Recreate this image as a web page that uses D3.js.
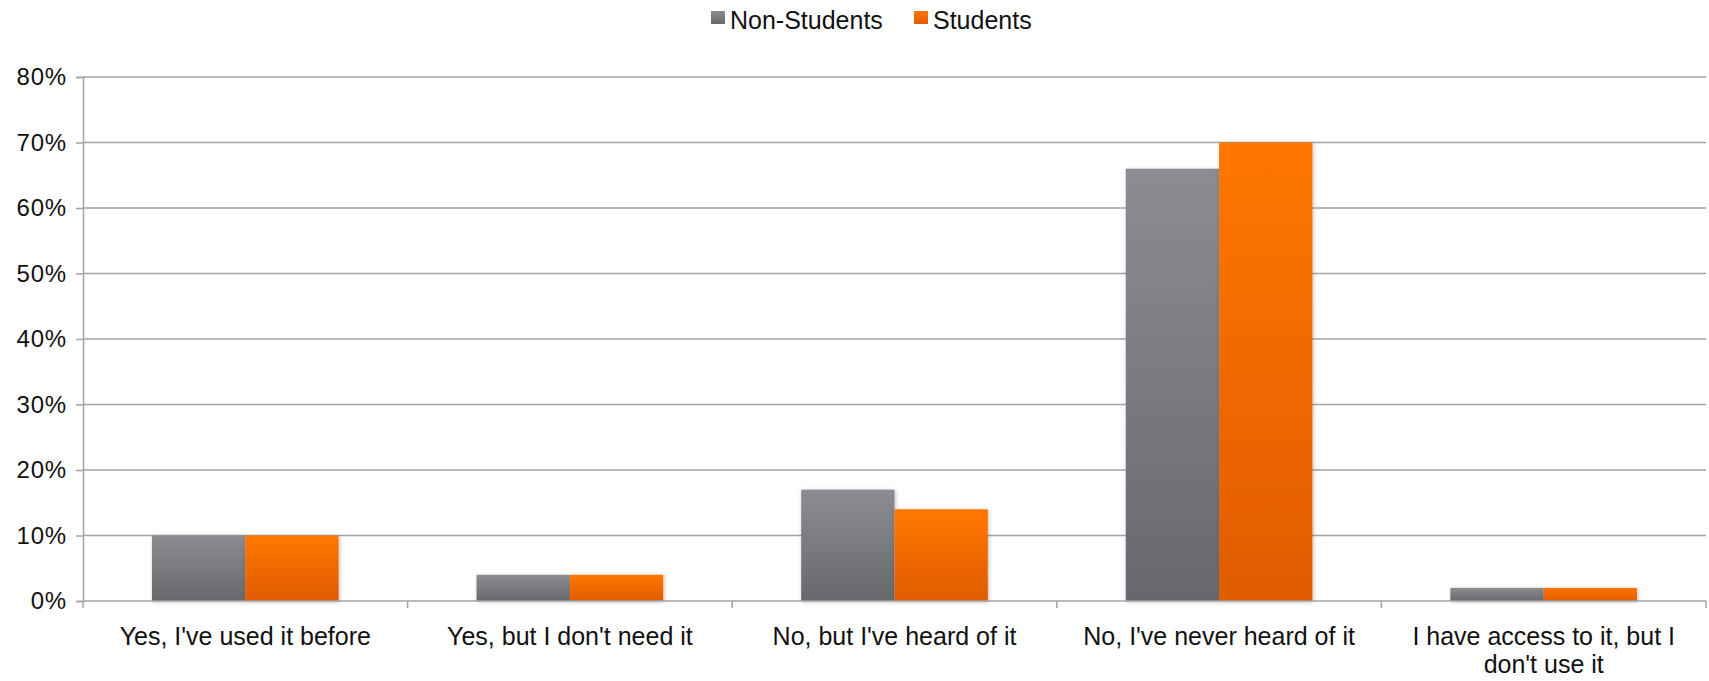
<!DOCTYPE html>
<html>
<head>
<meta charset="utf-8">
<script src="https://cdn.jsdelivr.net/npm/d3@7"></script>
<style>
  body { margin: 0; background: #fff; }
  svg { display: block; font-family: "Liberation Sans", Arial, sans-serif; }
</style>
</head>
<body>
<svg id="chart" width="1709" height="681"></svg>
<script>
const categories = [
  "Yes, I've used it before",
  "Yes, but I don't need it",
  "No, but I've heard of it",
  "No, I've never heard of it",
  "I have access to it, but I don't use it"
]
const seriesNames = ["Non-Students", "Students"]
const nonStudents = [10, 4, 17, 66, 2]
const students = [10, 4, 14, 70, 2]
const yTicks = [0, 10, 20, 30, 40, 50, 60, 70, 80]

const W = 1709, H = 681
const margin = { top: 77, right: 3, bottom: 80, left: 83 }
const svg = d3.select("#chart")

// gradients + shadow
const defs = svg.append("defs")
const grads = [["g0", "#8c8d91", "#67686c"], ["g1", "#ff7700", "#df5b00"]]
grads.forEach(([id, c1, c2]) => {
  let g = defs.append("linearGradient").attr("id", id)
    .attr("x1", 0).attr("y1", 0).attr("x2", 0).attr("y2", 1)
  g.append("stop").attr("offset", "0%").attr("stop-color", c1)
  g.append("stop").attr("offset", "100%").attr("stop-color", c2)
})
const f = defs.append("filter").attr("id", "shadow")
  .attr("x", "-10%").attr("y", "-10%").attr("width", "130%").attr("height", "130%")
f.append("feDropShadow").attr("dx", 1).attr("dy", 1).attr("stdDeviation", 2)
  .attr("flood-color", "#000").attr("flood-opacity", 0.25)

const x0 = d3.scaleBand().domain(categories)
  .range([margin.left, W - margin.right]).padding(0)
const inset = x0.bandwidth() * 0.2125
const x1 = d3.scaleBand().domain(seriesNames)
  .range([inset, x0.bandwidth() - inset]).padding(0)
const y = d3.scaleLinear().domain([0, 80]).range([H - margin.bottom, margin.top])

// gridlines
svg.append("g")
  .selectAll("line").data(yTicks.slice(1)).join("line")
  .attr("x1", margin.left).attr("x2", W - margin.right)
  .attr("y1", d => y(d)).attr("y2", d => y(d))
  .attr("stroke", "#a3a3a3").attr("stroke-width", 1.5)

// y axis
const yAxis = svg.append("g")
  .attr("transform", `translate(${margin.left},0)`)
  .call(d3.axisLeft(y).tickValues(yTicks).tickFormat(d => d + "%").tickSize(7).tickPadding(9))
yAxis.select(".domain").attr("stroke", "#a3a3a3").attr("stroke-width", 1.5)
yAxis.selectAll(".tick line").attr("stroke", "#a3a3a3").attr("stroke-width", 1.5)
yAxis.selectAll(".tick text").attr("font-size", 24).attr("fill", "#111")
  .attr("letter-spacing", 0.8)

// bars
const data = categories.map((c, i) => ({ cat: c, vals: [nonStudents[i], students[i]] }))
const groups = svg.append("g").selectAll("g").data(data).join("g")
  .attr("transform", d => `translate(${x0(d.cat)},0)`)
groups.selectAll("rect")
  .data(d => d.vals.map((v, j) => ({ name: seriesNames[j], v, j })))
  .join("rect")
  .attr("x", d => x1(d.name))
  .attr("width", x1.bandwidth())
  .attr("y", d => y(d.v))
  .attr("height", d => y(0) - y(d.v))
  .attr("fill", d => `url(#g${d.j})`)
  .attr("filter", "url(#shadow)")

// x axis
const base = y(0)
svg.append("line")
  .attr("x1", margin.left).attr("x2", W - margin.right)
  .attr("y1", base).attr("y2", base)
  .attr("stroke", "#a3a3a3").attr("stroke-width", 1.5)
const bounds = categories.map(c => x0(c)).concat([x0.range()[1]])
svg.append("g").selectAll("line").data(bounds).join("line")
  .attr("x1", d => d).attr("x2", d => d)
  .attr("y1", base).attr("y2", base + 7)
  .attr("stroke", "#a3a3a3").attr("stroke-width", 1.5)

// category labels (wrapped)
function wrap(text, width) {
  let words = text.split(" "), lines = [], cur = ""
  words.forEach(w => {
    let t = cur ? cur + " " + w : w
    if (t.length > width && cur) { lines.push(cur); cur = w } else cur = t
  })
  lines.push(cur)
  return lines
}
const labels = svg.append("g").selectAll("text").data(categories).join("text")
  .attr("x", d => x0(d) + x0.bandwidth() / 2)
  .attr("y", 645)
  .attr("text-anchor", "middle")
  .attr("font-size", 25).attr("fill", "#111")
labels.each(function (d) {
  const lines = wrap(d, 28)
  d3.select(this).selectAll("tspan").data(lines).join("tspan")
    .attr("x", x0(d) + x0.bandwidth() / 2)
    .attr("dy", (l, i) => i === 0 ? 0 : 28)
    .text(l => l)
})

// legend
const legendX = [711, 914]
const legend = svg.append("g").selectAll("g").data(seriesNames).join("g")
  .attr("transform", (d, i) => `translate(${legendX[i]},11)`)
legend.append("rect").attr("width", 14).attr("height", 13)
  .attr("fill", (d, i) => `url(#g${i})`)
legend.append("text").attr("x", 19).attr("y", 18)
  .attr("font-size", 25).attr("fill", "#111").text(d => d)
</script>
</body>
</html>
